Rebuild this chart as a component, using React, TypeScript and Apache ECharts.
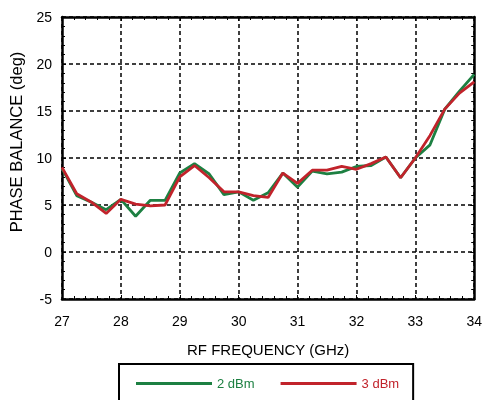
import React, { useEffect, useRef } from "react";
import * as echarts from "echarts";

const freqs = [27, 27.25, 27.5, 27.75, 28, 28.25, 28.5, 28.75, 29, 29.25, 29.5, 29.75, 30, 30.25, 30.5, 30.75, 31, 31.25, 31.5, 31.75, 32, 32.25, 32.5, 32.75, 33, 33.25, 33.5, 33.75, 34];
const dbm2 = [8.9, 6.0, 5.3, 4.5, 5.6, 3.8, 5.5, 5.5, 8.4, 9.4, 8.3, 6.1, 6.4, 5.5, 6.3, 8.4, 6.9, 8.6, 8.3, 8.5, 9.1, 9.2, 10.1, 7.9, 10.0, 11.4, 15.2, 17.1, 18.9];
const dbm3 = [9.0, 6.2, 5.3, 4.1, 5.6, 5.1, 4.9, 5.0, 8.0, 9.2, 7.9, 6.4, 6.4, 6.0, 5.8, 8.4, 7.3, 8.7, 8.7, 9.1, 8.8, 9.4, 10.1, 7.9, 10.0, 12.4, 15.2, 16.9, 18.1];
const seriesNames = ["2 dBm", "3 dBm"];
const xTitle = "RF FREQUENCY (GHz)";
const yTitle = "PHASE BALANCE (deg)";

const GREEN = "#1d8042";
const RED = "#c1232b";
const FONT = "'Liberation Sans', Arial, Helvetica, sans-serif";

export default function App() {
  const ref = useRef<HTMLDivElement>(null);
  useEffect(() => {
    if (!ref.current) return;
    const chart = echarts.init(ref.current, undefined, { renderer: "svg" });
    const axisLine = { show: true, onZero: false, lineStyle: { color: "#000", width: 2.5 } };
    const tick = { show: true, inside: true, length: 4, lineStyle: { color: "#000", width: 1 } };
    const minor = { show: true, splitNumber: 5, length: 3, lineStyle: { color: "#000", width: 1 } };
    const split = { show: true, lineStyle: { color: "#000", width: 1.5, type: [4, 3] } };
    chart.setOption({
      animation: false,
      textStyle: { fontFamily: FONT },
      grid: { left: 62, right: 7, top: 17, bottom: 101 },
      xAxis: [
        {
          type: "value", min: 27, max: 34, interval: 1, position: "bottom",
          axisLine, axisTick: tick, minorTick: minor, splitLine: split,
          axisLabel: { color: "#000", fontSize: 14, margin: 15, fontFamily: FONT },
          name: xTitle, nameLocation: "middle", nameGap: 43,
          nameTextStyle: { color: "#000", fontSize: 15, fontFamily: FONT },
        },
        {
          type: "value", min: 27, max: 34, interval: 1, position: "top",
          axisLine, axisTick: tick, minorTick: minor, splitLine: { show: false },
          axisLabel: { show: false },
        },
      ],
      yAxis: [
        {
          type: "value", min: -5, max: 25, interval: 5, position: "left",
          axisLine, axisTick: tick, minorTick: minor, splitLine: split,
          axisLabel: { color: "#000", fontSize: 14, margin: 10, fontFamily: FONT },
        },
        {
          type: "value", min: -5, max: 25, interval: 5, position: "right",
          axisLine, axisTick: tick, minorTick: minor, splitLine: { show: false },
          axisLabel: { show: false },
        },
      ],
      legend: {
        left: 119, top: 364, orient: "horizontal",
        padding: [13, 14, 20, 17],
        borderColor: "#000", borderWidth: 2,
        itemWidth: 76, itemHeight: 3, itemGap: 26, icon: "rect",
        textStyle: { fontSize: 13, fontFamily: FONT },
        data: [
          { name: seriesNames[0], textStyle: { color: GREEN } },
          { name: seriesNames[1], textStyle: { color: RED } },
        ],
      },
      graphic: [
        {
          type: "text", x: 16, y: 142, rotation: Math.PI / 2,
          style: { text: yTitle, fontSize: 16.5, fontFamily: FONT, fill: "#000", textAlign: "center", textVerticalAlign: "middle" },
        },
      ],
      series: [
        {
          name: seriesNames[0], type: "line", symbol: "none", color: GREEN,
          lineStyle: { width: 2.8, color: GREEN },
          data: freqs.map((f, i) => [f, dbm2[i]]),
          clip: true,
        },
        {
          name: seriesNames[1], type: "line", symbol: "none", color: RED,
          lineStyle: { width: 2.8, color: RED },
          data: freqs.map((f, i) => [f, dbm3[i]]),
          clip: true,
        },
      ],
    });
    return () => chart.dispose();
  }, []);
  return <div ref={ref} style={{ position: "fixed", left: 0, top: 0, width: 485, height: 400 }} />;
}
